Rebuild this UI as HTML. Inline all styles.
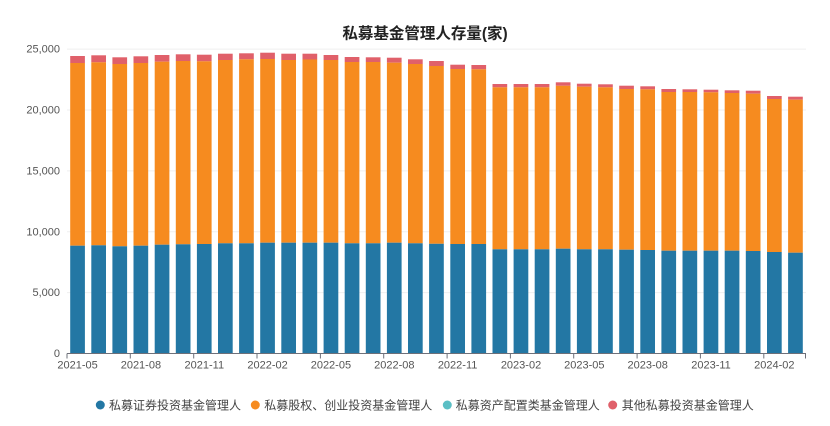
<!DOCTYPE html>
<html>
<head>
<meta charset="utf-8">
<style>
  html,body{margin:0;padding:0;background:#fff;}
  body{width:830px;height:426px;overflow:hidden;}
  svg{display:block;}
  .yl{font-family:"Liberation Sans","Noto Sans CJK SC",sans-serif;font-size:11px;fill:#555;}
  .xl{font-family:"Liberation Sans","Noto Sans CJK SC",sans-serif;font-size:11px;fill:#555;}
  .lg{font-family:"Liberation Sans","Noto Sans CJK SC",sans-serif;font-size:12px;fill:#444;}
  .tt{font-family:"Liberation Sans","Noto Sans CJK SC",sans-serif;font-size:15.5px;font-weight:bold;fill:#222;}
  .b{fill:#2377a4;} .o{fill:#f68b1f;} .r{fill:#e0606a;}
</style>
</head>
<body>
<svg width="830" height="426" viewBox="0 0 830 426" xmlns="http://www.w3.org/2000/svg">
  <rect width="830" height="426" fill="#fff"/>
  <text class="tt" x="425" y="38.5" text-anchor="middle">私募基金管理人存量(家)</text>

  <!-- grid -->
  <g stroke="#efefef" stroke-width="1">
    <line x1="67" x2="806" y1="49.1" y2="49.1"/>
    <line x1="67" x2="806" y1="110" y2="110"/>
    <line x1="67" x2="806" y1="170.9" y2="170.9"/>
    <line x1="67" x2="806" y1="231.75" y2="231.75"/>
    <line x1="67" x2="806" y1="292.6" y2="292.6"/>
  </g>

  <!-- y labels -->
  <g class="yl" text-anchor="end">
    <text x="60" y="52.5">25,000</text>
    <text x="60" y="113.5">20,000</text>
    <text x="60" y="174.5">15,000</text>
    <text x="60" y="235.5">10,000</text>
    <text x="60" y="296">5,000</text>
    <text x="60" y="357">0</text>
  </g>

  <!-- bars -->
  <g>
    <g transform="translate(70.2,0)"><rect class="r" x="0" width="14.7" y="56" height="7"/><rect class="o" x="0" width="14.7" y="63" height="182.7"/><rect class="b" x="0" width="14.7" y="245.7" height="107.8"/></g>
    <g transform="translate(91.3,0)"><rect class="r" x="0" width="14.7" y="55.3" height="7"/><rect class="o" x="0" width="14.7" y="62.3" height="183"/><rect class="b" x="0" width="14.7" y="245.3" height="108.2"/></g>
    <g transform="translate(112.4,0)"><rect class="r" x="0" width="14.7" y="57.3" height="6.7"/><rect class="o" x="0" width="14.7" y="64" height="182.3"/><rect class="b" x="0" width="14.7" y="246.3" height="107.2"/></g>
    <g transform="translate(133.5,0)"><rect class="r" x="0" width="14.7" y="56.3" height="6.7"/><rect class="o" x="0" width="14.7" y="63" height="182.7"/><rect class="b" x="0" width="14.7" y="245.7" height="107.8"/></g>
    <g transform="translate(154.7,0)"><rect class="r" x="0" width="14.7" y="55" height="6.7"/><rect class="o" x="0" width="14.7" y="61.7" height="183"/><rect class="b" x="0" width="14.7" y="244.7" height="108.8"/></g>
    <g transform="translate(175.8,0)"><rect class="r" x="0" width="14.7" y="54.3" height="6.7"/><rect class="o" x="0" width="14.7" y="61" height="183.3"/><rect class="b" x="0" width="14.7" y="244.3" height="109.2"/></g>
    <g transform="translate(196.9,0)"><rect class="r" x="0" width="14.7" y="54.7" height="6.6"/><rect class="o" x="0" width="14.7" y="61.3" height="182.7"/><rect class="b" x="0" width="14.7" y="244" height="109.5"/></g>
    <g transform="translate(218.0,0)"><rect class="r" x="0" width="14.7" y="53.7" height="6.3"/><rect class="o" x="0" width="14.7" y="60" height="183.3"/><rect class="b" x="0" width="14.7" y="243.3" height="110.2"/></g>
    <g transform="translate(239.1,0)"><rect class="r" x="0" width="14.7" y="53.3" height="6"/><rect class="o" x="0" width="14.7" y="59.3" height="184"/><rect class="b" x="0" width="14.7" y="243.3" height="110.2"/></g>
    <g transform="translate(260.2,0)"><rect class="r" x="0" width="14.7" y="52.7" height="6.3"/><rect class="o" x="0" width="14.7" y="59" height="183.7"/><rect class="b" x="0" width="14.7" y="242.7" height="110.8"/></g>
    <g transform="translate(281.3,0)"><rect class="r" x="0" width="14.7" y="53.7" height="6.3"/><rect class="o" x="0" width="14.7" y="60" height="182.7"/><rect class="b" x="0" width="14.7" y="242.7" height="110.8"/></g>
    <g transform="translate(302.5,0)"><rect class="r" x="0" width="14.7" y="53.7" height="5.8"/><rect class="o" x="0" width="14.7" y="59.5" height="183.2"/><rect class="b" x="0" width="14.7" y="242.7" height="110.8"/></g>
    <g transform="translate(323.6,0)"><rect class="r" x="0" width="14.7" y="55" height="5"/><rect class="o" x="0" width="14.7" y="60" height="182.7"/><rect class="b" x="0" width="14.7" y="242.7" height="110.8"/></g>
    <g transform="translate(344.7,0)"><rect class="r" x="0" width="14.7" y="57" height="5"/><rect class="o" x="0" width="14.7" y="62" height="181.3"/><rect class="b" x="0" width="14.7" y="243.3" height="110.2"/></g>
    <g transform="translate(365.8,0)"><rect class="r" x="0" width="14.7" y="57.3" height="4.7"/><rect class="o" x="0" width="14.7" y="62" height="181.3"/><rect class="b" x="0" width="14.7" y="243.3" height="110.2"/></g>
    <g transform="translate(386.9,0)"><rect class="r" x="0" width="14.7" y="57.7" height="5"/><rect class="o" x="0" width="14.7" y="62.7" height="180"/><rect class="b" x="0" width="14.7" y="242.7" height="110.8"/></g>
    <g transform="translate(408.0,0)"><rect class="r" x="0" width="14.7" y="59.3" height="4.7"/><rect class="o" x="0" width="14.7" y="64" height="179.3"/><rect class="b" x="0" width="14.7" y="243.3" height="110.2"/></g>
    <g transform="translate(429.1,0)"><rect class="r" x="0" width="14.7" y="61" height="5"/><rect class="o" x="0" width="14.7" y="66" height="177.8"/><rect class="b" x="0" width="14.7" y="243.8" height="109.7"/></g>
    <g transform="translate(450.3,0)"><rect class="r" x="0" width="14.7" y="64.7" height="4.3"/><rect class="o" x="0" width="14.7" y="69" height="175"/><rect class="b" x="0" width="14.7" y="244" height="109.5"/></g>
    <g transform="translate(471.4,0)"><rect class="r" x="0" width="14.7" y="65" height="4.3"/><rect class="o" x="0" width="14.7" y="69.3" height="174.7"/><rect class="b" x="0" width="14.7" y="244" height="109.5"/></g>
    <g transform="translate(492.5,0)"><rect class="r" x="0" width="14.7" y="84" height="3.3"/><rect class="o" x="0" width="14.7" y="87.3" height="162"/><rect class="b" x="0" width="14.7" y="249.3" height="104.2"/></g>
    <g transform="translate(513.6,0)"><rect class="r" x="0" width="14.7" y="84" height="3.3"/><rect class="o" x="0" width="14.7" y="87.3" height="162"/><rect class="b" x="0" width="14.7" y="249.3" height="104.2"/></g>
    <g transform="translate(534.7,0)"><rect class="r" x="0" width="14.7" y="84" height="3.3"/><rect class="o" x="0" width="14.7" y="87.3" height="162"/><rect class="b" x="0" width="14.7" y="249.3" height="104.2"/></g>
    <g transform="translate(555.8,0)"><rect class="r" x="0" width="14.7" y="82.3" height="3.5"/><rect class="o" x="0" width="14.7" y="85.8" height="162.9"/><rect class="b" x="0" width="14.7" y="248.7" height="104.8"/></g>
    <g transform="translate(576.9,0)"><rect class="r" x="0" width="14.7" y="83.7" height="3"/><rect class="o" x="0" width="14.7" y="86.7" height="162.6"/><rect class="b" x="0" width="14.7" y="249.3" height="104.2"/></g>
    <g transform="translate(598.1,0)"><rect class="r" x="0" width="14.7" y="84.3" height="3"/><rect class="o" x="0" width="14.7" y="87.3" height="162"/><rect class="b" x="0" width="14.7" y="249.3" height="104.2"/></g>
    <g transform="translate(619.2,0)"><rect class="r" x="0" width="14.7" y="85.7" height="3.3"/><rect class="o" x="0" width="14.7" y="89" height="160.7"/><rect class="b" x="0" width="14.7" y="249.7" height="103.8"/></g>
    <g transform="translate(640.3,0)"><rect class="r" x="0" width="14.7" y="86.3" height="3"/><rect class="o" x="0" width="14.7" y="89.3" height="160.7"/><rect class="b" x="0" width="14.7" y="250" height="103.5"/></g>
    <g transform="translate(661.4,0)"><rect class="r" x="0" width="14.7" y="89" height="3"/><rect class="o" x="0" width="14.7" y="92" height="158.7"/><rect class="b" x="0" width="14.7" y="250.7" height="102.8"/></g>
    <g transform="translate(682.5,0)"><rect class="r" x="0" width="14.7" y="89.3" height="2.7"/><rect class="o" x="0" width="14.7" y="92" height="158.7"/><rect class="b" x="0" width="14.7" y="250.7" height="102.8"/></g>
    <g transform="translate(703.6,0)"><rect class="r" x="0" width="14.7" y="89.7" height="2.6"/><rect class="o" x="0" width="14.7" y="92.3" height="158.4"/><rect class="b" x="0" width="14.7" y="250.7" height="102.8"/></g>
    <g transform="translate(724.7,0)"><rect class="r" x="0" width="14.7" y="90.3" height="2.7"/><rect class="o" x="0" width="14.7" y="93" height="157.7"/><rect class="b" x="0" width="14.7" y="250.7" height="102.8"/></g>
    <g transform="translate(745.8,0)"><rect class="r" x="0" width="14.7" y="90.7" height="3"/><rect class="o" x="0" width="14.7" y="93.7" height="157.3"/><rect class="b" x="0" width="14.7" y="251" height="102.5"/></g>
    <g transform="translate(767.0,0)"><rect class="r" x="0" width="14.7" y="96" height="3"/><rect class="o" x="0" width="14.7" y="99" height="153"/><rect class="b" x="0" width="14.7" y="252" height="101.5"/></g>
    <g transform="translate(788.1,0)"><rect class="r" x="0" width="14.7" y="96.7" height="3"/><rect class="o" x="0" width="14.7" y="99.7" height="153"/><rect class="b" x="0" width="14.7" y="252.7" height="100.8"/></g>
  </g>

  <!-- x axis -->
  <g stroke="#6e7079" stroke-width="1">
    <line x1="67" x2="806" y1="353.5" y2="353.5"/>
    <line x1="67" x2="67" y1="353.5" y2="358.5"/>
    <line x1="130.3" x2="130.3" y1="353.5" y2="358.5"/>
    <line x1="193.7" x2="193.7" y1="353.5" y2="358.5"/>
    <line x1="257" x2="257" y1="353.5" y2="358.5"/>
    <line x1="320.4" x2="320.4" y1="353.5" y2="358.5"/>
    <line x1="383.7" x2="383.7" y1="353.5" y2="358.5"/>
    <line x1="447.1" x2="447.1" y1="353.5" y2="358.5"/>
    <line x1="510.4" x2="510.4" y1="353.5" y2="358.5"/>
    <line x1="573.7" x2="573.7" y1="353.5" y2="358.5"/>
    <line x1="637.1" x2="637.1" y1="353.5" y2="358.5"/>
    <line x1="700.4" x2="700.4" y1="353.5" y2="358.5"/>
    <line x1="763.8" x2="763.8" y1="353.5" y2="358.5"/>
    <line x1="805.5" x2="805.5" y1="353.5" y2="358.5"/>
  </g>
  <g class="xl" text-anchor="middle">
    <text x="77.6" y="368.5">2021-05</text>
    <text x="140.9" y="368.5">2021-08</text>
    <text x="204.3" y="368.5">2021-11</text>
    <text x="267.6" y="368.5">2022-02</text>
    <text x="330.9" y="368.5">2022-05</text>
    <text x="394.3" y="368.5">2022-08</text>
    <text x="457.6" y="368.5">2022-11</text>
    <text x="521.0" y="368.5">2023-02</text>
    <text x="584.3" y="368.5">2023-05</text>
    <text x="647.7" y="368.5">2023-08</text>
    <text x="711.0" y="368.5">2023-11</text>
    <text x="774.3" y="368.5">2024-02</text>
  </g>

  <!-- legend -->
  <g>
    <circle cx="100.3" cy="405" r="4.5" fill="#2377a4"/>
    <text class="lg" x="109" y="409.5">私募证券投资基金管理人</text>
    <circle cx="255.3" cy="405" r="4.5" fill="#f68b1f"/>
    <text class="lg" x="264.3" y="409.5">私募股权、创业投资基金管理人</text>
    <circle cx="447.3" cy="405" r="4.5" fill="#5bbfc5"/>
    <text class="lg" x="455.7" y="409.5">私募资产配置类基金管理人</text>
    <circle cx="612.7" cy="405" r="4.5" fill="#e0606a"/>
    <text class="lg" x="621.7" y="409.5">其他私募投资基金管理人</text>
  </g>
</svg>
</body>
</html>
